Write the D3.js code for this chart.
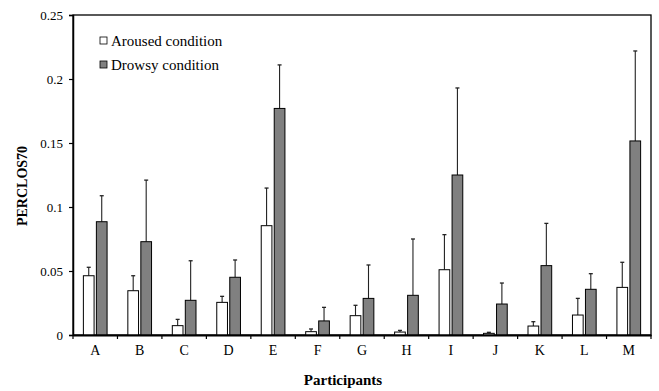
<!DOCTYPE html>
<html><head><meta charset="utf-8">
<script src="https://cdn.jsdelivr.net/npm/d3@7"></script>
<style>body{margin:0;background:#fff;} text{font-family:"Liberation Serif","Times New Roman",serif;}</style>
</head><body><svg id="c" width="659" height="391"></svg>
<script>
const categories = ["A","B","C","D","E","F","G","H","I","J","K","L","M"];
const aroused = [0.0463,0.0346,0.0073,0.0255,0.0854,0.0026,0.0151,0.0023,0.0510,0.0013,0.0070,0.0156,0.0372];
const arousedErr = [0.0066,0.0117,0.0049,0.0047,0.0294,0.0021,0.0081,0.0013,0.0274,0.0008,0.0034,0.0130,0.0196];
const drowsy = [0.0885,0.0729,0.0271,0.0451,0.1770,0.0110,0.0286,0.0310,0.1250,0.0242,0.0542,0.0357,0.1516];
const drowsyErr = [0.0203,0.0481,0.0309,0.0135,0.0340,0.0106,0.0261,0.0440,0.0680,0.0164,0.0330,0.0122,0.0703];
const yTicks = [0,0.05,0.1,0.15,0.2,0.25];
const yTickLabels = ["0","0.05","0.1","0.15","0.2","0.25"];
const seriesNames = ["Aroused condition","Drowsy condition"];

const svg = d3.select("#c");
const L=73, R=651, T=15, B=335;
const x = d3.scaleBand().domain(categories).range([L,R]);
const y = d3.scaleLinear().domain([0,0.25]).range([B,T]);
const bw = 10.7, gap = 2.3;
const colors = ["#ffffff","#808080"];
const series = [{v:aroused,e:arousedErr},{v:drowsy,e:drowsyErr}];

// frame
svg.append("rect").attr("x",L).attr("y",T).attr("width",R-L).attr("height",B-T)
  .attr("fill","none").attr("stroke","#000").attr("stroke-width",1.3);

series.forEach((s,si)=>{
  const off = si===0 ? -gap/2-bw : gap/2;
  const g = svg.append("g");
  categories.forEach((c,i)=>{
    const cx = x(c)+x.bandwidth()/2+off;
    const mid = cx+bw/2;
    g.append("line").attr("x1",mid).attr("x2",mid).attr("y1",y(s.v[i])).attr("y2",y(s.v[i]+s.e[i]))
      .attr("stroke","#222").attr("stroke-width",1.1);
    g.append("line").attr("x1",mid-2).attr("x2",mid+2).attr("y1",y(s.v[i]+s.e[i])).attr("y2",y(s.v[i]+s.e[i]))
      .attr("stroke","#222").attr("stroke-width",1.3);
    g.append("rect").attr("x",cx).attr("y",y(s.v[i])).attr("width",bw).attr("height",y(0)-y(s.v[i]))
      .attr("fill",colors[si]).attr("stroke","#000").attr("stroke-width",1);
  });
});

// y axis
const ya = svg.append("g").attr("transform",`translate(${L},0)`)
  .call(d3.axisLeft(y).tickValues(yTicks).tickFormat((d,i)=>yTickLabels[i]).tickSize(4).tickPadding(6));
ya.select(".domain").attr("stroke","#000").attr("stroke-width",1.5);
ya.selectAll("line").attr("stroke","#000").attr("stroke-width",1.2);
ya.selectAll("text").attr("font-size",13).attr("fill","#000").style("font-family","Liberation Serif");

// x axis
const xa = svg.append("g").attr("transform",`translate(0,${B})`)
  .call(d3.axisBottom(x).tickSize(0).tickPadding(10));
xa.select(".domain").attr("stroke","#000").attr("stroke-width",1.8);
xa.selectAll("text").attr("font-size",14).attr("fill","#000").style("font-family","Liberation Serif");
const bounds = categories.map(c=>x(c)).concat([R]);
svg.append("g").selectAll("line").data(bounds).join("line")
  .attr("x1",d=>d).attr("x2",d=>d).attr("y1",B).attr("y2",B+4).attr("stroke","#000").attr("stroke-width",1.2);

// axis titles
svg.append("text").attr("x",343).attr("y",385).attr("text-anchor","middle")
  .attr("font-size",15).attr("font-weight","bold").text("Participants");
svg.append("text").attr("transform",`translate(27,186) rotate(-90)`).attr("text-anchor","middle")
  .attr("font-size",14).attr("font-weight","bold").text("PERCLOS70");

// legend
seriesNames.forEach((n,i)=>{
  const ly = 42 + i*24;
  svg.append("rect").attr("x",100).attr("y",ly-5).attr("width",7).attr("height",7)
    .attr("fill",colors[i]).attr("stroke","#000").attr("stroke-width",0.8);
  svg.append("text").attr("x",111).attr("y",ly+4).attr("font-size",15).text(n);
});
</script></body></html>
